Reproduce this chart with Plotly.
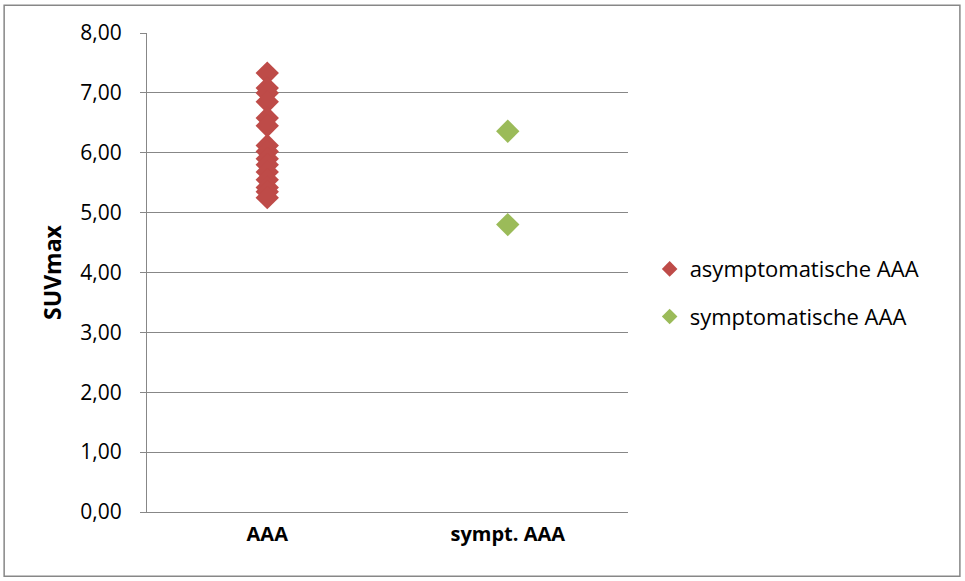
import plotly.graph_objects as go

categories = ["AAA", "sympt. AAA"]
asym_values = [7.33, 7.08, 7.00, 6.85, 6.58, 6.45, 6.12, 6.02, 5.90, 5.80, 5.68, 5.55, 5.42, 5.35, 5.25]
sym_values = [6.36, 4.80]
y_ticks = [0, 1, 2, 3, 4, 5, 6, 7, 8]
y_tick_labels = ["0,00", "1,00", "2,00", "3,00", "4,00", "5,00", "6,00", "7,00", "8,00"]

FONT = "Open Sans, Noto Sans, sans-serif"

fig = go.Figure()
fig.add_trace(go.Scatter(
    x=[categories[0]] * len(asym_values), y=asym_values, mode="markers",
    name="asymptomatische AAA", legendgroup="a",
    marker=dict(symbol="diamond", size=18, color="#BE4B48"),
))
fig.add_trace(go.Scatter(
    x=[categories[1]] * len(sym_values), y=sym_values, mode="markers",
    name="symptomatische AAA", legendgroup="b",
    marker=dict(symbol="diamond", size=18, color="#9BBB59"),
))

fig.update_layout(
    width=965, height=581,
    margin=dict(l=147, r=337, t=33, b=69),
    paper_bgcolor="white", plot_bgcolor="white",
    font=dict(family=FONT, size=21, color="black"),
    showlegend=True,
    legend=dict(x=1.045, y=0.457, xanchor="left", yanchor="middle",
                font=dict(size=22), itemsizing="constant",
                tracegroupgap=16, itemwidth=30),
    xaxis=dict(type="category", categoryarray=categories, range=[-0.5, 1.5],
               showgrid=False, showline=True, linecolor="#878787", linewidth=1,
               ticks="", tickfont=dict(family=FONT, size=20, weight="bold"),
               ticklabelstandoff=4, zeroline=False),
    yaxis=dict(range=[0, 8], tickvals=y_ticks, ticktext=y_tick_labels,
               showgrid=True, gridcolor="#878787", gridwidth=1,
               showline=True, linecolor="#878787", linewidth=1,
               ticks="outside", ticklen=6, tickcolor="#878787",
               ticklabelstandoff=14, tickfont=dict(size=21),
               zeroline=False,
               title=dict(text="<b>SUVmax</b>", font=dict(family=FONT, size=23), standoff=12)),
    shapes=[dict(type="rect", xref="paper", yref="paper",
                 x0=-0.297, x1=1.690, y0=-0.134, y1=1.058,
                 line=dict(color="#878787", width=1.5), fillcolor="rgba(0,0,0,0)")],
)

fig.write_html("out.html", config={"displayModeBar": False},
               post_script="document.body.style.margin='0';document.body.style.overflow='hidden';")
